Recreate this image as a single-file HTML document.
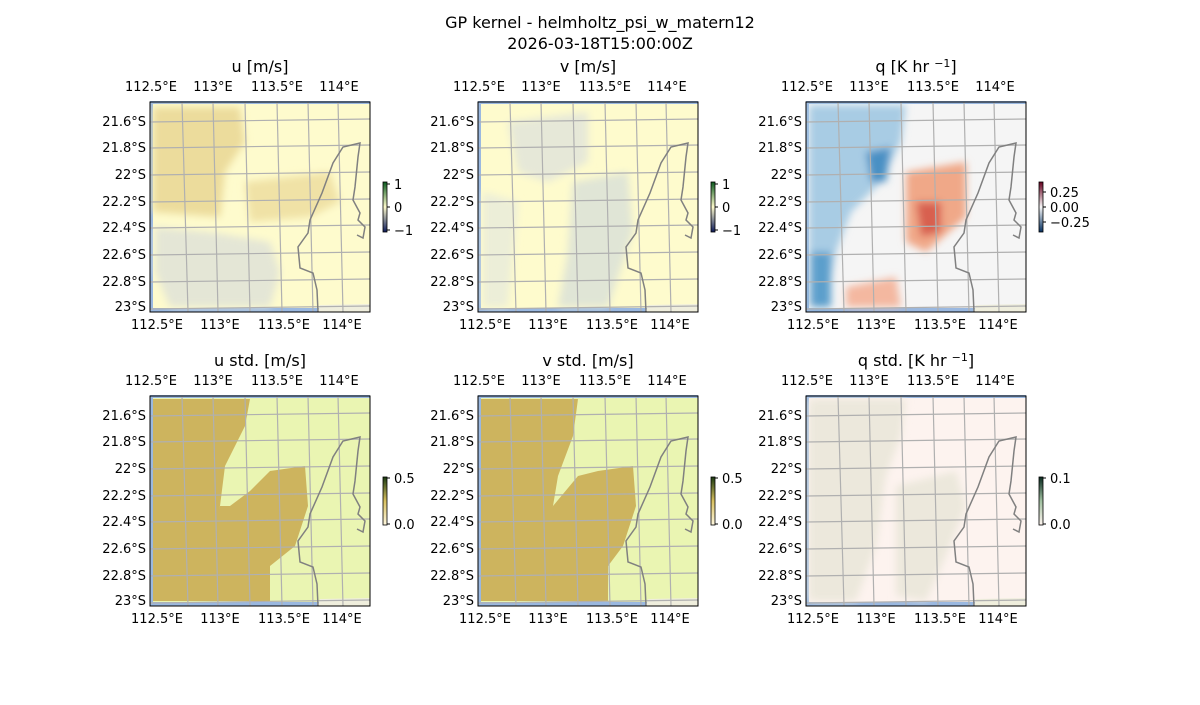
<!DOCTYPE html>
<html><head><meta charset="utf-8"><style>
body{margin:0;background:#fff}
svg text{font-family:"DejaVu Sans","Liberation Sans",sans-serif;fill:#000}
</style></head><body>
<svg width="1200" height="700" viewBox="0 0 1200 700" xmlns="http://www.w3.org/2000/svg">
<defs>
<clipPath id="cp"><rect x="0" y="0" width="220" height="210"/></clipPath>
<g id="water">
<rect x="0" y="0" width="220" height="210" fill="#9ab8e0"/>
</g>
<g id="over">
<path d="M0,0 L220,0" stroke="#9ab8e0" stroke-width="2"/>
<polygon points="168,210 170,203 220,202 220,210" fill="#efeedd"/>
<g stroke="#b0b0b0" stroke-width="1.2" fill="none">
<line x1="32" y1="0" x2="38" y2="210"/><line x1="63" y1="0" x2="68" y2="210"/>
<line x1="95" y1="0" x2="100" y2="210"/><line x1="127" y1="0" x2="132" y2="210"/>
<line x1="158" y1="0" x2="163" y2="210"/><line x1="188" y1="0" x2="193" y2="210"/>
<line x1="0" y1="20" x2="220" y2="17"/><line x1="0" y1="46" x2="220" y2="43"/>
<line x1="0" y1="73" x2="220" y2="70"/><line x1="0" y1="100" x2="220" y2="97"/>
<line x1="0" y1="126" x2="220" y2="123"/><line x1="0" y1="153" x2="220" y2="150"/>
<line x1="0" y1="180" x2="220" y2="177"/><line x1="0" y1="207" x2="220" y2="204"/>
</g>
<path d="M168,210 L167,188 L163,171 L150,166 L148,145 L158,131 L160,118 L172,91 L183,61 L193,45 L210,41 L208,55 L205,85 L203,98 L210,111 L208,118 L215,125 L213,136 L207,133" fill="none" stroke="#808080" stroke-width="1.5"/>
<rect x="0" y="0" width="220" height="210" fill="none" stroke="#000" stroke-width="1"/>
</g>
<g id="ticks" font-size="13">
<text x="1" y="-11" text-anchor="middle">112.5°E</text><text x="63" y="-11" text-anchor="middle">113°E</text>
<text x="127" y="-11" text-anchor="middle">113.5°E</text><text x="189" y="-11" text-anchor="middle">114°E</text>
<text x="7" y="227" text-anchor="middle">112.5°E</text><text x="70" y="227" text-anchor="middle">113°E</text>
<text x="134" y="227" text-anchor="middle">113.5°E</text><text x="192" y="227" text-anchor="middle">114°E</text>
<g text-anchor="end"><text x="-4" y="24">21.6°S</text><text x="-4" y="50">21.8°S</text><text x="-4" y="77">22°S</text>
<text x="-4" y="104">22.2°S</text><text x="-4" y="130">22.4°S</text><text x="-4" y="157">22.6°S</text>
<text x="-4" y="184">22.8°S</text><text x="-4" y="209">23°S</text></g>
</g>
<linearGradient id="gU" x1="0" y1="0" x2="0" y2="1"><stop offset="0" stop-color="#0a5a1e"/><stop offset="0.5" stop-color="#fefbcd"/><stop offset="1" stop-color="#0c1a5a"/></linearGradient>
<linearGradient id="gQ" x1="0" y1="0" x2="0" y2="1"><stop offset="0" stop-color="#67001f"/><stop offset="0.5" stop-color="#f7f7f7"/><stop offset="1" stop-color="#053061"/></linearGradient>
<linearGradient id="gS" x1="0" y1="0" x2="0" y2="1"><stop offset="0" stop-color="#1a3a10"/><stop offset="0.5" stop-color="#d8c060"/><stop offset="1" stop-color="#fff8e0"/></linearGradient>
<linearGradient id="gQS" x1="0" y1="0" x2="0" y2="1"><stop offset="0" stop-color="#0a2a20"/><stop offset="0.5" stop-color="#a0c0a0"/><stop offset="1" stop-color="#fff5f0"/></linearGradient>
<filter id="bl"><feGaussianBlur stdDeviation="4"/></filter>
</defs>

<text x="600" y="28" font-size="16" text-anchor="middle">GP kernel - helmholtz_psi_w_matern12</text>
<text x="600" y="49" font-size="16" text-anchor="middle">2026-03-18T15:00:00Z</text>

<g transform="translate(150,102)">
<g clip-path="url(#cp)">
<use href="#water"/>
<rect x="3" y="2" width="217" height="204" fill="#fefbcd"/>
<g filter="url(#bl)">
<polygon points="3,5 90,5 95,40 75,70 70,115 3,110" fill="#ecdc9c"/>
<polygon points="95,80 180,70 190,100 160,115 100,120" fill="#f0e2a6"/>
<polygon points="5,125 60,130 120,140 130,170 120,205 20,205 5,170" fill="#e4e6d6"/>
</g>
</g>
<use href="#over"/><use href="#ticks"/>
<text x="110" y="-30" font-size="16" text-anchor="middle">u [m/s]</text>
</g>
<g transform="translate(478,102)">
<g clip-path="url(#cp)">
<use href="#water"/>
<rect x="3" y="2" width="217" height="204" fill="#fefbcd"/>
<g filter="url(#bl)">
<polygon points="30,20 110,10 110,60 70,80 40,70" fill="#e6e8d8"/>
<polygon points="95,80 150,70 155,130 130,205 80,205 90,150" fill="#e0e5d6"/>
<polygon points="5,90 40,100 30,205 5,205" fill="#eceed8"/>
</g>
</g>
<use href="#over"/><use href="#ticks"/>
<text x="110" y="-30" font-size="16" text-anchor="middle">v [m/s]</text>
</g>
<g transform="translate(806,102)">
<g clip-path="url(#cp)">
<use href="#water"/>
<rect x="3" y="2" width="217" height="204" fill="#f5f5f5"/>
<g filter="url(#bl)">
<polygon points="3,3 100,3 95,40 75,80 45,110 30,150 20,205 3,205" fill="#a8cce4"/>
<polygon points="5,150 25,150 25,205 5,205" fill="#5c9fcc"/>
<polygon points="60,50 85,45 80,80 65,80" fill="#4a90c4"/>
<polygon points="100,70 160,60 160,115 120,150 100,140" fill="#f0a888"/>
<polygon points="110,100 135,100 135,130 115,135" fill="#d86050"/>
<polygon points="40,185 90,175 95,205 40,205" fill="#f4b8a0"/>
</g>
</g>
<use href="#over"/><use href="#ticks"/>
<text x="110" y="-30" font-size="16" text-anchor="middle">q [K hr <tspan dy="-5" font-size="11">−1</tspan><tspan dy="5">]</tspan></text>
</g>

<g transform="translate(150,396)">
<g clip-path="url(#cp)">
<use href="#water"/>
<rect x="3" y="2" width="217" height="204" fill="#eaf5b2"/>
<polygon points="3,3 100,3 95,30 90,40 75,70 70,110 60,150 50,180 40,205 3,205" fill="#cdb45e"/>
<polygon points="38,205 45,170 60,140 70,110 80,110 100,95 120,75 155,70 158,110 145,150 120,170 120,205" fill="#cdb45e"/>
</g>
<use href="#over"/><use href="#ticks"/>
<text x="110" y="-30" font-size="16" text-anchor="middle">u std. [m/s]</text>
</g>
<g transform="translate(478,396)">
<g clip-path="url(#cp)">
<use href="#water"/>
<rect x="3" y="2" width="217" height="204" fill="#eaf5b2"/>
<polygon points="3,3 100,3 95,40 80,80 75,110 65,150 50,180 40,205 3,205" fill="#cdb45e"/>
<polygon points="38,205 45,170 60,140 75,110 100,80 120,75 155,70 158,110 145,150 130,170 130,205" fill="#cdb45e"/>
</g>
<use href="#over"/><use href="#ticks"/>
<text x="110" y="-30" font-size="16" text-anchor="middle">v std. [m/s]</text>
</g>
<g transform="translate(806,396)">
<g clip-path="url(#cp)">
<use href="#water"/>
<rect x="3" y="2" width="217" height="204" fill="#fdf3ef"/>
<g filter="url(#bl)">
<polygon points="3,3 100,3 95,40 80,80 70,150 50,205 3,205" fill="#ece8dc"/>
<polygon points="90,90 150,75 160,110 140,160 120,205 90,200" fill="#ece8dc"/>
</g>
</g>
<use href="#over"/><use href="#ticks"/>
<text x="110" y="-30" font-size="16" text-anchor="middle">q std. [K hr <tspan dy="-5" font-size="11">−1</tspan><tspan dy="5">]</tspan></text>
</g>

<g font-size="13">
<rect x="383" y="182" width="4" height="50" fill="url(#gU)" stroke="#000" stroke-width="0.8"/>
<line x1="387" y1="184" x2="390" y2="184" stroke="#000"/><line x1="387" y1="207" x2="390" y2="207" stroke="#000"/><line x1="387" y1="230" x2="390" y2="230" stroke="#000"/>
<text x="394" y="189">1</text><text x="394" y="212">0</text><text x="394" y="235">−1</text>

<rect x="711" y="182" width="4" height="50" fill="url(#gU)" stroke="#000" stroke-width="0.8"/>
<line x1="715" y1="184" x2="718" y2="184" stroke="#000"/><line x1="715" y1="207" x2="718" y2="207" stroke="#000"/><line x1="715" y1="230" x2="718" y2="230" stroke="#000"/>
<text x="722" y="189">1</text><text x="722" y="212">0</text><text x="722" y="235">−1</text>

<rect x="1039" y="182" width="4" height="50" fill="url(#gQ)" stroke="#000" stroke-width="0.8"/>
<line x1="1043" y1="192" x2="1046" y2="192" stroke="#000"/><line x1="1043" y1="207" x2="1046" y2="207" stroke="#000"/><line x1="1043" y1="222" x2="1046" y2="222" stroke="#000"/>
<text x="1050" y="197">0.25</text><text x="1050" y="212">0.00</text><text x="1050" y="227">−0.25</text>

<rect x="383" y="477" width="4" height="48" fill="url(#gS)" stroke="#000" stroke-width="0.8"/>
<line x1="387" y1="478" x2="390" y2="478" stroke="#000"/><line x1="387" y1="524" x2="390" y2="524" stroke="#000"/>
<text x="394" y="483">0.5</text><text x="394" y="529">0.0</text>

<rect x="711" y="477" width="4" height="48" fill="url(#gS)" stroke="#000" stroke-width="0.8"/>
<line x1="715" y1="478" x2="718" y2="478" stroke="#000"/><line x1="715" y1="524" x2="718" y2="524" stroke="#000"/>
<text x="722" y="483">0.5</text><text x="722" y="529">0.0</text>

<rect x="1039" y="477" width="4" height="48" fill="url(#gQS)" stroke="#000" stroke-width="0.8"/>
<line x1="1043" y1="478" x2="1046" y2="478" stroke="#000"/><line x1="1043" y1="524" x2="1046" y2="524" stroke="#000"/>
<text x="1050" y="483">0.1</text><text x="1050" y="529">0.0</text>
</g>
</svg>
</body></html>
